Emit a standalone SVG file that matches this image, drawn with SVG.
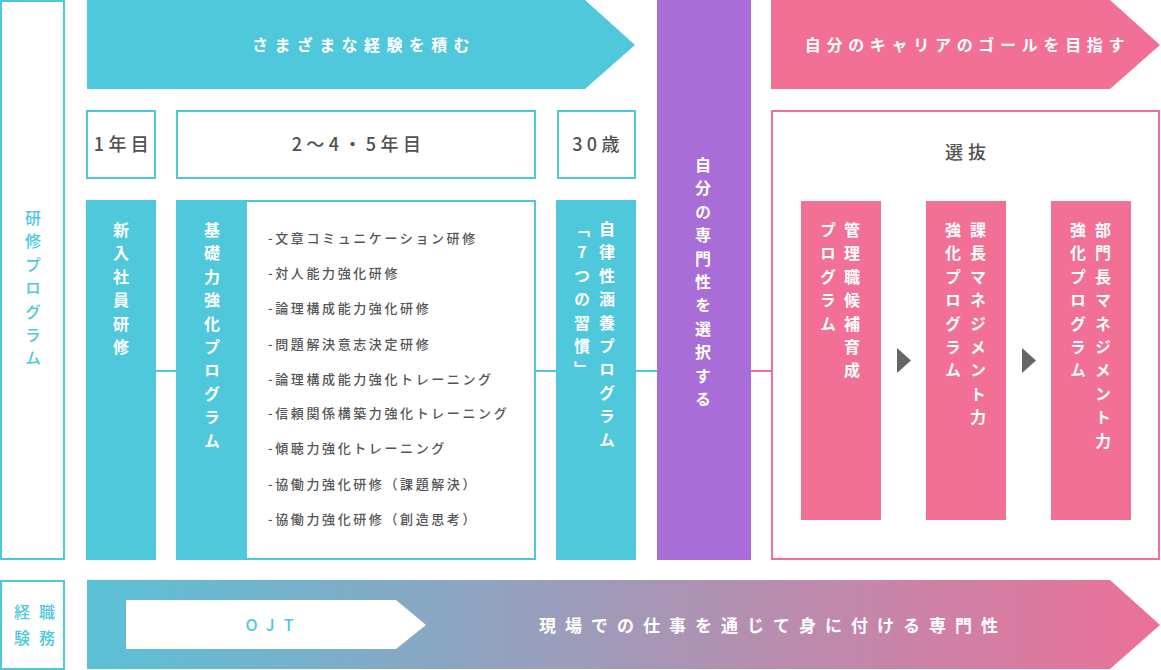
<svg xmlns="http://www.w3.org/2000/svg" width="1161" height="670" viewBox="0 0 1161 670">
<defs>
<linearGradient id="grad" x1="0" y1="0" x2="1" y2="0">
<stop offset="0" stop-color="#5ac1d7"/>
<stop offset="1" stop-color="#ec7098"/>
</linearGradient>
<style>
text{font-family:"Noto Sans CJK JP","Noto Sans",sans-serif;}
.v{writing-mode:vertical-rl;text-orientation:upright;font-size:16px;font-weight:700;fill:#fff;letter-spacing:7.4px;}
.vc{fill:#4ec8da;font-weight:500;}
.cy{fill:#4ec8da;}
.cyS{fill:none;stroke:#4ec8da;stroke-width:2;}
.pkS{fill:none;stroke:#f27096;stroke-width:2;}
.pk{fill:#f27096;}
.gray{fill:#505050;}
.yr{font-size:18px;font-weight:500;fill:#505050;letter-spacing:4.4px;text-anchor:middle;}
.li{font-size:13px;font-weight:500;fill:#555;letter-spacing:2.6px;}
.hd{font-size:16px;font-weight:700;fill:#fff;text-anchor:middle;}
.ln{stroke-width:2;fill:none;}
</style>
</defs>
<rect width="1161" height="670" fill="#fff"/>

<g id="label-kenshu">
<rect x="1" y="1" width="63" height="558" class="cyS"/>
<text class="v vc" x="33" y="210">研修プログラム</text>
</g>

<g id="label-keiken">
<rect x="1" y="581" width="63" height="88" class="cyS"/>
<text x="39" y="618" font-size="16" font-weight="500" letter-spacing="9" text-anchor="middle" class="cy">経職</text>
<text x="39" y="644" font-size="16" font-weight="500" letter-spacing="9" text-anchor="middle" class="cy">験務</text>
</g>

<g id="arrow-samazama">
<polygon points="87,0 585,0 635,45 585,89 87,89" class="cy"/>
<text class="hd" x="364" y="51" letter-spacing="6.4">さまざまな経験を積む</text>
</g>

<g id="arrow-goal">
<polygon points="771,0 1110,0 1160,45 1110,89 771,89" class="pk"/>
<text class="hd" x="967.5" y="51" letter-spacing="5.7">自分のキャリアのゴールを目指す</text>
</g>

<g id="year-1">
<rect x="87" y="111" width="68" height="67" class="cyS"/>
<text class="yr" x="123.5" y="151">1年目</text>
</g>
<g id="year-2-5">
<rect x="177" y="111" width="358" height="67" class="cyS"/>
<text class="yr" x="358.5" y="151">2〜4・5年目</text>
</g>
<g id="year-30">
<rect x="558" y="111" width="77" height="67" class="cyS"/>
<text class="yr" x="598" y="151">30歳</text>
</g>

<g id="connectors">
<line x1="155" y1="371" x2="177" y2="371" stroke="#4ec8da" class="ln"/>
<line x1="535" y1="371" x2="557" y2="371" stroke="#4ec8da" class="ln"/>
<line x1="635" y1="371" x2="657" y2="371" stroke="#4ec8da" class="ln"/>
<line x1="750" y1="371" x2="772" y2="371" stroke="#f27096" class="ln"/>
<polygon points="897,348 911,360.5 897,373" fill="#666"/>
<polygon points="1022,348 1036,360.5 1022,373" fill="#666"/>
</g>

<g id="shinnyu">
<rect x="86" y="200" width="70" height="360" class="cy"/>
<text class="v" x="121" y="222">新入社員研修</text>
</g>

<g id="kiso">
<rect x="177" y="201" width="358" height="358" fill="#fff" stroke="#4ec8da" stroke-width="2"/>
<rect x="176" y="200" width="71" height="360" class="cy"/>
<text class="v" x="212" y="222">基礎力強化プログラム</text>
<text class="li" x="268" y="243">-文章コミュニケーション研修</text>
<text class="li" x="268" y="278">-対人能力強化研修</text>
<text class="li" x="268" y="313">-論理構成能力強化研修</text>
<text class="li" x="268" y="349">-問題解決意志決定研修</text>
<text class="li" x="268" y="384">-論理構成能力強化トレーニング</text>
<text class="li" x="268" y="418">-信頼関係構築力強化トレーニング</text>
<text class="li" x="268" y="453">-傾聴力強化トレーニング</text>
<text class="li" x="268" y="489">-協働力強化研修（課題解決）</text>
<text class="li" x="268" y="524">-協働力強化研修（創造思考）</text>
</g>

<g id="jiritsu">
<rect x="556" y="200" width="80" height="360" class="cy"/>
<text class="v" x="607" y="221">自律性涵養プログラム</text>
<text class="v" x="582" y="221">「7つの習慣」</text>
</g>

<g id="senmon">
<rect x="657" y="0" width="94" height="560" fill="#a86dd6"/>
<text class="v" x="703" y="157">自分の専門性を選択する</text>
</g>

<g id="senbatsu">
<rect x="772" y="111" width="387" height="448" class="pkS"/>
<text x="968" y="159" font-size="18" font-weight="500" letter-spacing="5" text-anchor="middle" class="gray">選抜</text>
</g>

<g id="kanrishoku">
<rect x="801" y="201" width="80" height="319" class="pk"/>
<text class="v" x="852" y="222">管理職候補育成</text>
<text class="v" x="828" y="222">プログラム</text>
</g>

<g id="kacho">
<rect x="926" y="201" width="80" height="319" class="pk"/>
<text class="v" x="978" y="222">課長マネジメント力</text>
<text class="v" x="953" y="222">強化プログラム</text>
</g>

<g id="buchou">
<rect x="1051" y="201" width="80" height="319" class="pk"/>
<text class="v" x="1103" y="222">部門長マネジメント力</text>
<text class="v" x="1078" y="222">強化プログラム</text>
</g>

<g id="arrow-ojt">
<polygon points="87,580 1110,580 1160,625 1110,669 87,669" fill="url(#grad)"/>
<polygon points="126,600 396,600 426,625 396,649 126,649" fill="#fff"/>
<text x="274" y="631" font-size="16" font-weight="500" letter-spacing="9" text-anchor="middle" class="cy">OJT</text>
<text x="773" y="632" font-size="17" font-weight="700" letter-spacing="9" text-anchor="middle" fill="#fff">現場での仕事を通じて身に付ける専門性</text>
</g>
</svg>
